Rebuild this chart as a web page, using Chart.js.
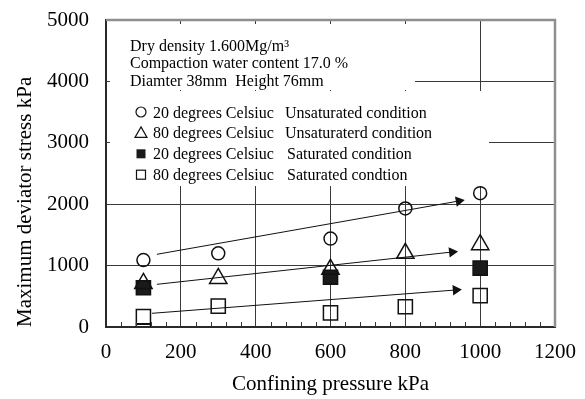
<!DOCTYPE html>
<html>
<head>
<meta charset="utf-8">
<script src="https://cdn.jsdelivr.net/npm/chart.js@4.4.0/dist/chart.umd.min.js"></script>
<style>
  html, body { margin: 0; padding: 0; background: #fff; }
</style>
</head>
<body>
<canvas id="myChart" width="585" height="399"></canvas>
<script>
// values (kPa)
var pressure = [100, 300, 600, 800, 1000];
var unsat20 = [1090, 1200, 1440, 1930, 2180];
var unsat80 = [710, 790, 940, 1200, 1340];
var satPressure20 = [100, 600, 1000];
var sat20 = [640, 810, 960];
var satPressure80 = [100, 100, 300, 600, 800, 1000];
var sat80 = [170, -70, 340, 230, 330, 510];
// trend arrows: start and end
var arrowX = [[136, 943], [136, 925], [123, 935]];
var arrowY = [[1184, 2052], [695, 1221], [223, 603]];

var noteLines = ['Dry density 1.600Mg/m\u00b3', 'Compaction water content 17.0 %', 'Diamter 38mm  Height 76mm'];
var legendTemps = ['20 degrees Celsiuc', '80 degrees Celsiuc', '20 degrees Celsiuc', '80 degrees Celsiuc'];
var legendConds = ['Unsaturated condition', 'Unsaturaterd condition', 'Saturated condition', 'Saturated condtion'];

var serif = '"Liberation Serif", "Times New Roman", serif';

function pts(xs, ys) {
    return xs.map(function (x, i) { return { x: x, y: ys[i] }; });
}

var markerBase = {
    borderColor: '#000',
    pointBorderColor: '#111',
    pointBorderWidth: 1.5,
    pointBackgroundColor: 'rgba(0,0,0,0)'
};

var datasets = [
    Object.assign({}, markerBase, { label: '20 unsat', data: pts(pressure, unsat20), pointStyle: 'circle', pointRadius: 6.5 }),
    Object.assign({}, markerBase, { label: '80 unsat', data: pts(pressure, unsat80), pointStyle: 'triangle', pointRadius: 10 }),
    Object.assign({}, markerBase, { label: '20 sat', data: pts(satPressure20, sat20), pointStyle: 'rect', pointRadius: 10, pointBackgroundColor: '#1a1a1a' }),
    Object.assign({}, markerBase, { label: '80 sat', data: pts(satPressure80, sat80), pointStyle: 'rect', pointRadius: 10, clip: 0 })
];

arrowX.forEach(function (xs, i) {
    datasets.push({
        label: 'arrow' + i,
        data: pts(xs, arrowY[i]),
        showLine: true,
        borderColor: '#111',
        borderWidth: 1,
        pointStyle: 'triangle',
        pointBackgroundColor: '#111',
        pointBorderColor: '#111',
        pointBorderWidth: 0,
        pointRadius: function (c) { return c.dataIndex === 1 ? 6 : 0; },
        pointRotation: function (c) {
            var d = c.chart.data.datasets[c.datasetIndex].data;
            var xs = c.chart.scales.x, ys = c.chart.scales.y;
            var dx = xs.getPixelForValue(d[1].x) - xs.getPixelForValue(d[0].x);
            var dy = ys.getPixelForValue(d[1].y) - ys.getPixelForValue(d[0].y);
            return Math.atan2(dx, -dy) * 180 / Math.PI;
        }
    });
});

// white note boxes with the legend, drawn over the grid
var notesPlugin = {
    id: 'notes',
    beforeDatasetsDraw: function (chart) {
        var ctx = chart.ctx, a = chart.chartArea;
        ctx.save();
        ctx.fillStyle = '#fff';
        ctx.fillRect(a.left + 4, a.top + 4, 305, 66);
        ctx.fillRect(a.left + 4, a.top + 71, 379, 95);

        ctx.fillStyle = '#000';
        ctx.font = '16px ' + serif;
        ctx.textBaseline = 'alphabetic';
        noteLines.forEach(function (t, i) {
            ctx.fillText(t, a.left + 24, a.top + 31 + i * 17.4);
        });

        legendTemps.forEach(function (t, i) {
            var base = a.top + 97.5 + i * 20.9;
            var cx = a.left + 35, cy = base - 5.5;
            ctx.fillText(t, a.left + 47, base);
            ctx.fillText(legendConds[i], a.left + (i < 2 ? 179 : 181), base);
            ctx.strokeStyle = '#111';
            ctx.lineWidth = 1.2;
            ctx.beginPath();
            if (i === 0) {
                ctx.arc(cx, cy, 5, 0, Math.PI * 2);
                ctx.stroke();
            } else if (i === 1) {
                ctx.moveTo(cx, cy - 6);
                ctx.lineTo(cx + 6, cy + 4.5);
                ctx.lineTo(cx - 6, cy + 4.5);
                ctx.closePath();
                ctx.stroke();
            } else if (i === 2) {
                ctx.fillStyle = '#1a1a1a';
                ctx.fillRect(cx - 4.5, cy - 4.5, 9, 9);
                ctx.fillStyle = '#000';
            } else {
                ctx.strokeRect(cx - 4.5, cy - 4.5, 9, 9);
            }
        });
        ctx.restore();
    },
    afterDraw: function (chart) {
        var ctx = chart.ctx, a = chart.chartArea, xs = chart.scales.x;
        ctx.save();
        // small inward ticks on the x axis
        ctx.strokeStyle = '#333';
        ctx.lineWidth = 1;
        ctx.beginPath();
        for (var v = 40; v < 1200; v += 40) {
            if (v % 200 === 0) continue;
            var px = Math.round(xs.getPixelForValue(v)) + 0.5;
            ctx.moveTo(px, a.bottom);
            ctx.lineTo(px, a.bottom - 5);
        }
        ctx.stroke();
        // grey frame on top and right
        ctx.strokeStyle = '#8f8f8f';
        ctx.lineWidth = 2.5;
        ctx.beginPath();
        ctx.moveTo(a.left, a.top);
        ctx.lineTo(a.right, a.top);
        ctx.lineTo(a.right, a.bottom);
        ctx.stroke();
        ctx.restore();
    }
};

function plain(v) { return String(v); }

var ctx = document.getElementById('myChart').getContext('2d');
var myChart = new Chart(ctx, {
    type: 'scatter',
    data: { datasets: datasets },
    plugins: [notesPlugin],
    options: {
        responsive: false,
        animation: false,
        events: [],
        layout: { padding: { top: 20, right: 30, left: 0, bottom: 0 } },
        plugins: {
            legend: { display: false },
            tooltip: { enabled: false }
        },
        scales: {
            x: {
                type: 'linear',
                min: 0,
                max: 1200,
                afterFit: function (s) { s.height = 72; },
                ticks: { stepSize: 200, color: '#000', padding: 0, font: { family: serif, size: 21 }, callback: plain },
                grid: { color: '#3a3a3a', lineWidth: 1, drawTicks: true, tickLength: 13, tickColor: 'rgba(0,0,0,0)' },
                border: { color: '#2a2a2a', width: 2 },
                title: {
                    display: true,
                    text: 'Confining pressure kPa',
                    color: '#000',
                    font: { family: serif, size: 21 },
                    padding: { top: 0, bottom: 2 }
                }
            },
            y: {
                min: 0,
                max: 5000,
                afterFit: function (s) { s.width = 106; },
                ticks: { stepSize: 1000, color: '#000', padding: 0, font: { family: serif, size: 21 }, callback: plain },
                grid: { color: '#3a3a3a', lineWidth: 1, drawTicks: true, tickLength: 17, tickColor: 'rgba(0,0,0,0)' },
                border: { color: '#2a2a2a', width: 2 },
                title: {
                    display: true,
                    text: 'Maximum deviator stress kPa',
                    align: 'start',
                    color: '#000',
                    font: { family: serif, size: 21 },
                    padding: { top: 13, bottom: 0 }
                }
            }
        }
    }
});
</script>
</body>
</html>
